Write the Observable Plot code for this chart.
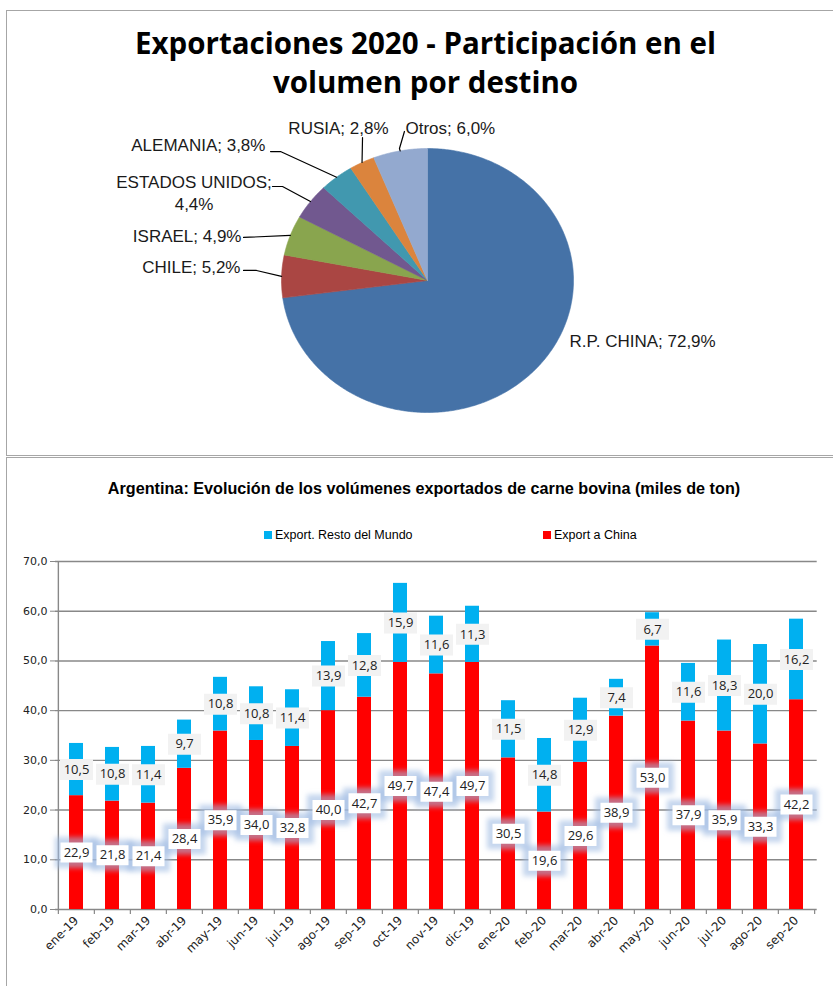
<!DOCTYPE html>
<html><head><meta charset="utf-8">
<script src="https://cdn.jsdelivr.net/npm/d3@7"></script>
<script src="https://cdn.jsdelivr.net/npm/@observablehq/plot@0.6"></script>
<style>
body{margin:0;background:#fff;width:833px;height:986px;overflow:hidden;position:relative;font-family:"Liberation Sans",Arial,sans-serif;}
.panel{position:absolute;border:1.5px solid #a6a6a6;box-sizing:border-box;}
#p1{left:6px;top:10px;width:850px;height:446px;}
#p2{left:6px;top:457px;width:850px;height:560px;}
.abs{position:absolute;}
#t1{left:0;width:851px;top:22.5px;text-align:center;font:bold 29.5px/39px "Open Sans",sans-serif;color:#000;}
#t2{left:0;width:848px;top:479px;text-align:center;font:bold 16.2px/18px "Liberation Sans",Arial,sans-serif;color:#000;}
.leg{position:absolute;top:527px;font:12.5px/16px "Liberation Sans",Arial,sans-serif;color:#000;white-space:nowrap;}
.sw{display:inline-block;width:8px;height:8px;margin-right:3px;vertical-align:0px;}
#pie,#bar{position:absolute;left:0;}
#pie{top:0;} #bar{top:540px;}
</style></head>
<body>
<div class="panel" id="p1"></div>
<div class="panel" id="p2"></div>
<div class="abs" id="t1">Exportaciones 2020 - Participación en el<br>volumen por destino</div>
<div class="abs" id="t2">Argentina: Evolución de los volúmenes exportados de carne bovina (miles de ton)</div>
<div id="legend"></div>
<div id="pie"></div>
<div id="bar"></div>
<script>
// ---------- Pie data ----------
const destinos = ["R.P. CHINA","CHILE","ISRAEL","ESTADOS UNIDOS","ALEMANIA","RUSIA","Otros"];
const participacion = [72.9, 5.2, 4.9, 4.4, 3.8, 2.8, 6.0];
const pieColors = ["#4572A7","#AA4643","#89A54E","#71588F","#4198AF","#DB843D","#93A9CF"];

// ---------- Bar data ----------
const months = ["ene-19","feb-19","mar-19","abr-19","may-19","jun-19","jul-19","ago-19","sep-19","oct-19","nov-19","dic-19",
                "ene-20","feb-20","mar-20","abr-20","may-20","jun-20","jul-20","ago-20","sep-20"];
const exportChina = [22.9,21.8,21.4,28.4,35.9,34.0,32.8,40.0,42.7,49.7,47.4,49.7,30.5,19.6,29.6,38.9,53.0,37.9,35.9,33.3,42.2];
const exportResto = [10.5,10.8,11.4,9.7,10.8,10.8,11.4,13.9,12.8,15.9,11.6,11.3,11.5,14.8,12.9,7.4,6.7,11.6,18.3,20.0,16.2];
const seriesNames = ["Export. Resto del Mundo","Export a China"];
const seriesColors = ["#00B0F0","#FF0000"];
const yTicks = [0,10,20,30,40,50,60,70];

const fmt = v => v.toFixed(1).replace(".", ",");

// ---------- Pie ----------
const total = d3.sum(participacion);
let acc = 0;
const slicePts = [], mids = {};
destinos.forEach((d, i) => {
  const a0 = acc / total * 2 * Math.PI; acc += participacion[i];
  const a1 = acc / total * 2 * Math.PI;
  mids[d] = (a0 + a1) / 2;
  slicePts.push({d, x: 0, y: 0});
  const n = Math.max(2, Math.ceil((a1 - a0) / (Math.PI / 360)));
  for (let k = 0; k <= n; k++) { const a = a0 + (a1 - a0) * k / n; slicePts.push({d, x: Math.sin(a), y: Math.cos(a)}); }
  slicePts.push({d, x: 0, y: 0});
});
const pieText = destinos.map((d, i) => ({d, t: (d === "ESTADOS UNIDOS" ? d + ";\n" : d + "; ") + fmt(participacion[i]) + "%"}));
// label placement (pie units, layout only)
const labelPos = {
  "R.P. CHINA": [0.973, -0.447, "start"], "CHILE": [-1.281, 0.114, "end"], "ISRAEL": [-1.274, 0.348, "end"],
  "ESTADOS UNIDOS": [-1.599, 0.674, "middle"], "ALEMANIA": [-1.11, 1.038, "end"],
  "RUSIA": [-0.61, 1.167, "middle"], "Otros": [-0.151, 1.167, "start"]
};
const leaderKnees = {
  "CHILE": [[-1.26, 0.076], [-1.171, 0.076]], "ISRAEL": [[-1.26, 0.326]],
  "ESTADOS UNIDOS": [[-1.062, 0.712], [-0.993, 0.712]], "ALEMANIA": [[-1.075, 0.977], [-1.007, 0.977]],
  "RUSIA": [[-0.445, 1.083]], "Otros": [[-0.158, 1.129], [-0.192, 1.0]]
};
const leaderPts = [];
Object.entries(leaderKnees).forEach(([d, pts]) => {
  pts.forEach(([x, y]) => leaderPts.push({d, x, y}));
  leaderPts.push({d, x: Math.sin(mids[d]), y: Math.cos(mids[d])});
});
const lbl = pieText.map(o => ({...o, x: labelPos[o.d][0], y: labelPos[o.d][1], a: labelPos[o.d][2]}));
const pieTextOpts = {x: "x", y: "y", text: "t", fill: "#1a1a1a", lineHeight: 1.3, fontSize: 17};

const pie = Plot.plot({
  width: 833, height: 455, margin: 0,
  x: {domain: [-1, 1], range: [281, 573], axis: null},
  y: {domain: [-1, 1], range: [412, 148], axis: null},
  color: {domain: destinos, range: pieColors},
  style: {background: "transparent", fontFamily: "Liberation Sans, Arial, sans-serif", overflow: "visible"},
  marks: [
    Plot.line(slicePts, {x: "x", y: "y", z: "d", fill: "d", stroke: "d", strokeWidth: 0.6, curve: "linear"}),
    Plot.line(leaderPts, {x: "x", y: "y", z: "d", stroke: "#000", strokeWidth: 1.2, curve: "linear"}),
    Plot.text(lbl.filter(o => o.a === "start"), {...pieTextOpts, textAnchor: "start"}),
    Plot.text(lbl.filter(o => o.a === "end"), {...pieTextOpts, textAnchor: "end"}),
    Plot.text(lbl.filter(o => o.a === "middle"), {...pieTextOpts, textAnchor: "middle"})
  ]
});
document.getElementById("pie").append(pie);

// ---------- Legend ----------
const legendX = [264, 543];
document.getElementById("legend").innerHTML = seriesNames.map((s, i) =>
  `<div class="leg" style="left:${legendX[i]}px"><span class="sw" style="background:${seriesColors[i]}"></span>${s}</div>`).join("");

// ---------- Bars ----------
const rows = months.flatMap((m, i) => [
  {m, s: "Export a China", v: exportChina[i]},
  {m, s: "Export. Resto del Mundo", v: exportResto[i]}
]);
const chinaLbl = months.map((m, i) => ({m, y: exportChina[i] / 2, t: fmt(exportChina[i])}));
const restoLbl = months.map((m, i) => ({m, y: exportChina[i] + exportResto[i] / 2, t: fmt(exportResto[i])}));

const W = 833, mL = 55, mR = 16.3;
const step = (W - mL - mR) / months.length;
const boxSym = (w, h) => ({draw(ctx) { ctx.rect(-w / 2, -h / 2, w, h); }});
const gridC = "#888888";

const bar = Plot.plot({
  width: W, height: 446, marginLeft: mL, marginRight: mR, marginTop: 21, marginBottom: 77,
  x: {domain: months, paddingInner: 0.6, paddingOuter: 0.3, label: null},
  y: {domain: [0, 70], label: null},
  color: {domain: seriesNames, range: seriesColors},
  style: {background: "transparent", fontFamily: "DejaVu Sans, Verdana, sans-serif", fontSize: "11px", overflow: "visible"},
  marks: [
    Plot.ruleY(yTicks, {stroke: gridC, strokeWidth: 1.4}),
    Plot.ruleX([months[0]], {x: d => d, dx: -step / 2, y1: 0, y2: 70, stroke: gridC, strokeWidth: 1.4}),
    Plot.ruleX(months, {x: d => d, dx: -step / 2, y1: 0, y2: -1, stroke: gridC, strokeWidth: 1.2}),
    Plot.ruleX([months[months.length - 1]], {x: d => d, dx: step / 2, y1: 0, y2: -1, stroke: gridC, strokeWidth: 1.2}),
    Plot.barY(rows, {x: "m", y: "v", fill: "s", order: ["Export a China", "Export. Resto del Mundo"]}),
    Plot.dot(chinaLbl, {x: "m", y: "y", symbol: boxSym(43, 31), fill: "#9fbbe3", fillOpacity: 0.6, stroke: "none"}),
    Plot.dot(chinaLbl, {x: "m", y: "y", symbol: boxSym(32, 20), fill: "#fff", stroke: "none"}),
    Plot.dot(restoLbl, {x: "m", y: "y", symbol: boxSym(33, 21), fill: "#f2f2f2", stroke: "none"}),
    Plot.text(chinaLbl, {x: "m", y: "y", text: "t", fill: "#222", fontSize: 13, fontFamily: "Open Sans, sans-serif"}),
    Plot.text(restoLbl, {x: "m", y: "y", text: "t", fill: "#222", fontSize: 13, fontFamily: "Open Sans, sans-serif"}),
    Plot.axisY({ticks: yTicks, tickFormat: fmt, tickSize: 5, tickPadding: 3, stroke: gridC, fill: "#222", label: null}),
    Plot.axisX({tickRotate: -45, tickSize: 0, tickPadding: 9, fill: "#222", fontSize: 12, label: null})
  ]
});
const ns = "http://www.w3.org/2000/svg";
const defs = document.createElementNS(ns, "defs");
defs.innerHTML = '<filter id="glw" x="-50%" y="-50%" width="200%" height="200%"><feGaussianBlur stdDeviation="2.4"/></filter>';
bar.prepend(defs);
const dotGroups = bar.querySelectorAll('g[aria-label="dot"]');
if (dotGroups[0]) dotGroups[0].setAttribute("filter", "url(#glw)");
document.getElementById("bar").append(bar);
</script>
</body></html>
